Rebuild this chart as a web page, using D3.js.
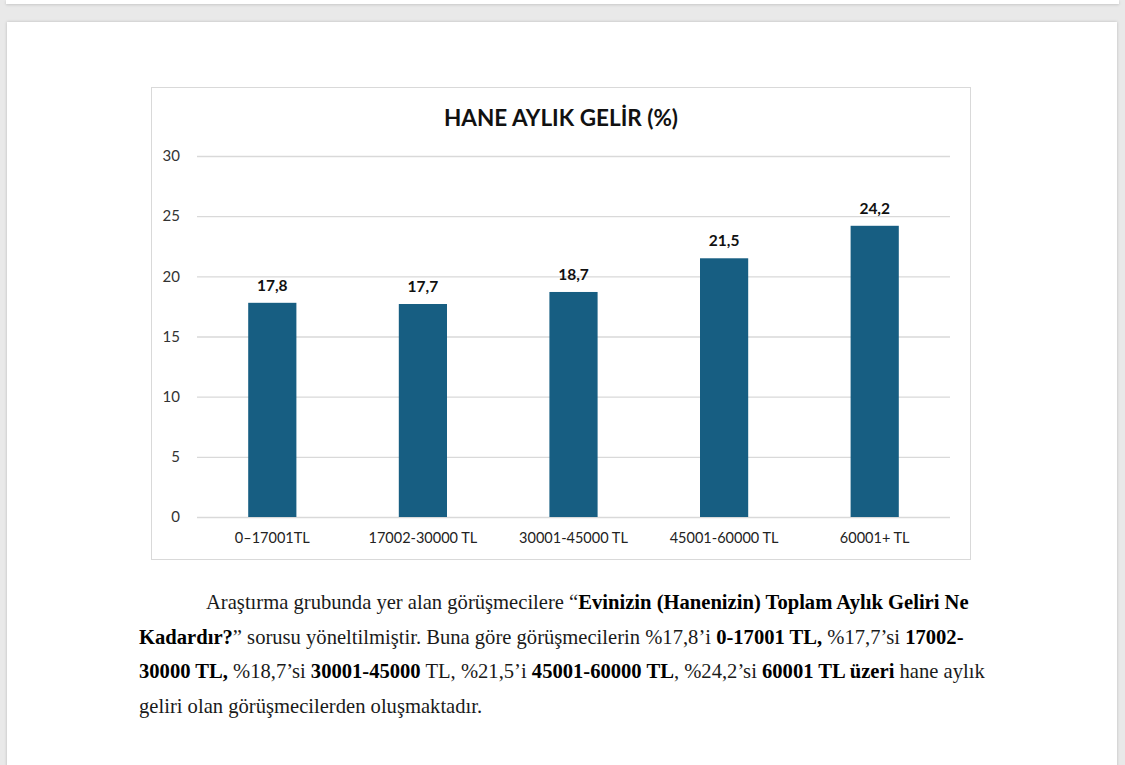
<!DOCTYPE html>
<html><head><meta charset="utf-8">
<script src="https://cdn.jsdelivr.net/npm/d3@7"></script>
<style>
html,body{margin:0;padding:0;}
body{width:1125px;height:765px;background:#e9e9e9;position:relative;overflow:hidden;}
#topstrip{position:absolute;left:6px;top:0;width:1113px;height:4px;background:#fff;box-shadow:0 1px 3px rgba(0,0,0,0.15);}
#page{position:absolute;left:7px;top:22px;width:1110px;height:760px;background:#fff;box-shadow:0 0 3px rgba(0,0,0,0.2);}
#chart{position:absolute;left:0;top:0;}
.line{position:absolute;font-family:"Liberation Serif","Times New Roman",serif;font-size:20.6px;color:#1a1a1a;white-space:nowrap;}
.line b{font-family:"Liberation Serif","Times New Roman",serif;font-weight:bold;color:#000;}
</style></head>
<body>
<div id="topstrip"></div>
<div id="page"></div>
<svg id="chart" width="1125" height="765"></svg>
<div class="line" id="l1" style="left:206px;top:591px;">Araştırma grubunda yer alan görüşmecilere “<b>Evinizin (Hanenizin) Toplam Aylık Geliri Ne</b></div>
<div class="line" id="l2" style="left:139px;top:626px;"><b>Kadardır?</b>” sorusu yöneltilmiştir. Buna göre görüşmecilerin %17,8’i <b>0-17001 TL,</b> %17,7’si <b>17002-</b></div>
<div class="line" id="l3" style="left:139px;top:660px;"><b>30000 TL,</b> %18,7’si <b>30001-45000</b> TL, %21,5’i <b>45001-60000 TL</b>, %24,2’si <b>60001 TL üzeri</b> hane aylık</div>
<div class="line" id="l4" style="left:139px;top:695px;">geliri olan görüşmecilerden oluşmaktadır.</div>
<script>
const title = "HANE AYLIK GELİR (%)";
const categories = ["0–17001TL","17002-30000 TL","30001-45000 TL","45001-60000 TL","60001+ TL"];
const values = [17.8, 17.7, 18.7, 21.5, 24.2];
const labels = ["17,8","17,7","18,7","21,5","24,2"];
const yTicks = [0,5,10,15,20,25,30];

const svg = d3.select("#chart");
const font = "Lato, 'Open Sans', sans-serif";
svg.append("rect").attr("x",151.5).attr("y",87.5).attr("width",819).attr("height",472)
  .attr("fill","#fff").attr("stroke","#d9d9d9").attr("stroke-width",1);

const x = d3.scaleBand().domain(categories).range([197,950]).paddingInner(0.68).paddingOuter(0.34);
const y = d3.scaleLinear().domain([0,30]).range([517,156]);

svg.append("text").attr("x",561).attr("y",126).attr("text-anchor","middle")
  .attr("font-family",font).attr("font-weight","bold").attr("font-size",22.5).attr("fill","#111").text(title);

const gy = svg.append("g").attr("transform","translate(197,0)")
  .call(d3.axisLeft(y).tickValues(yTicks).tickSize(-753).tickPadding(17));
gy.select(".domain").remove();
gy.selectAll(".tick line").attr("stroke","#d9d9d9").attr("stroke-width",1.3);
gy.selectAll(".tick text").attr("font-family",font).attr("font-size",15).attr("fill","#333");

svg.append("g").selectAll("rect").data(values).join("rect")
  .attr("x",(d,i)=>x(categories[i])).attr("width",x.bandwidth())
  .attr("y",d=>y(d)).attr("height",d=>y(0)-y(d)).attr("fill","#175e82");

svg.append("g").selectAll("text").data(values).join("text")
  .attr("x",(d,i)=>x(categories[i])+x.bandwidth()/2).attr("y",d=>y(d)-12)
  .attr("text-anchor","middle").attr("font-family",font).attr("font-weight","bold")
  .attr("font-size",15.5).attr("fill","#111").text((d,i)=>labels[i]);

const gx = svg.append("g").attr("transform","translate(0,517)")
  .call(d3.axisBottom(x).tickSize(0).tickPadding(16));
gx.select(".domain").remove();
gx.selectAll(".tick text").attr("font-family",font).attr("font-size",14.5).attr("fill","#222");
</script>
</body></html>
